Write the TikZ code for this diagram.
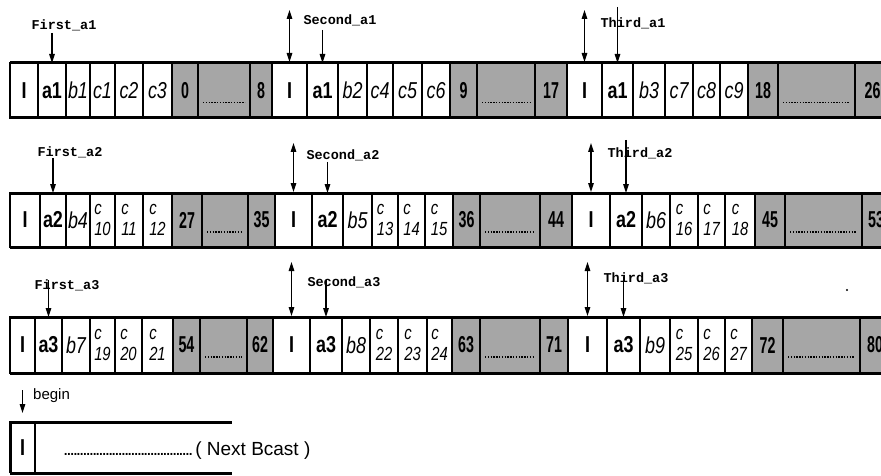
\documentclass[tikz,border=0pt]{standalone}
\usepackage{fontspec}
\setmainfont{Liberation Sans}
\newfontfamily\cellfont[FakeStretch=0.78]{Liberation Sans}
\newfontfamily\numfont[FakeStretch=0.62]{Liberation Sans}
\newfontfamily\lblfont{Liberation Mono}
\usetikzlibrary{arrows.meta}
\tikzset{
 cellbox/.style={draw, line width=1.2pt, inner sep=0pt, outer sep=0pt},
 ic/.style={font=\cellfont\bfseries\fontsize{23}{23}\selectfont},
 ab/.style={font=\cellfont\bfseries\fontsize{23}{23}\selectfont},
 itc/.style={font=\cellfont\itshape\fontsize{23}{23}\selectfont},
 stk/.style={font=\cellfont\itshape\fontsize{19}{21}\selectfont, align=left},
 gn/.style={fill=black!35, font=\numfont\bfseries\fontsize{23}{23}\selectfont},
 gm/.style={fill=black!35},
 rowline/.style={line width=3pt},
 secline/.style={line width=2.8pt},
 blockline/.style={line width=2.6pt},
 dotl/.style={line width=1.6pt, dash pattern=on 1.4pt off 1.4pt},
 lbl/.style={font=\lblfont\bfseries\fontsize{13.5}{14}\selectfont, inner sep=0pt},
 arr/.style={line width=1.4pt, -{Triangle[length=9pt,width=5.5pt]}},
 darr/.style={line width=1.4pt, {Triangle[length=9pt,width=5.5pt]}-{Triangle[length=9pt,width=5.5pt]}},
}
\newcommand\mkrow[4]{\foreach \xa/\xb/\cst/\ctx [count=\k] in {#4}{%
  \node[cellbox,\cst,minimum width={(\xb-\xa)*1pt},minimum height={(#3-#2)*1pt}] (#1c\k) at ({(\xa+\xb)/2},{(#2+#3)/2}) {\ctx};}}
\begin{document}
\begin{tikzpicture}[x=1pt,y=-1pt]
\useasboundingbox[fill=white] (0,0) rectangle (881,476);
% ---------- rows ----------
\mkrow{r1}{63}{118}{10/38/ic/I, 38/66/ab/a1, 66/90/itc/b1, 90/115/itc/c1, 115/143/itc/c2, 143/172/itc/c3, 172/198/gn/0, 198/250/gm/{}, 250/272/gn/8,
 272/307/ic/I, 307/338/ab/a1, 338/367/itc/b2, 367/393/itc/c4, 393/422/itc/c5, 422/450/itc/c6, 450/477/gn/9, 477/535/gm/{}, 535/567/gn/17,
 567/602/ic/I, 602/633/ab/a1, 633/665/itc/b3, 665/693/itc/c7, 693/720/itc/c8, 720/748/itc/c9, 748/778/gn/18, 778/855/gm/{}, 855/890/gn/26}
\mkrow{r2}{193}{247}{10/40/ic/I, 40/66/ab/a2, 66/90/itc/b4, 90/115/stk/{c\\10}, 115/143/stk/{c\\11}, 143/172/stk/{c\\12}, 172/202/gn/27, 202/248/gm/{}, 248/275/gn/35,
 275/312/ic/I, 312/343/ab/a2, 343/372/itc/b5, 372/398/stk/{c\\13}, 398/425/stk/{c\\14}, 425/453/stk/{c\\15}, 453/480/gn/36, 480/540/gm/{}, 540/572/gn/44,
 572/610/ic/I, 610/642/ab/a2, 642/670/itc/b6, 670/698/stk/{c\\16}, 698/725/stk/{c\\17}, 725/755/stk/{c\\18}, 755/785/gn/45, 785/862/gm/{}, 862/890/gn/53}
\mkrow{r3}{317}{373}{10/35/ic/I, 35/62/ab/a3, 62/90/itc/b7, 90/115/stk/{c\\19}, 115/142/stk/{c\\20}, 142/173/stk/{c\\21}, 173/200/gn/54, 200/247/gm/{}, 247/273/gn/62,
 273/310/ic/I, 310/342/ab/a3, 342/370/itc/b8, 370/398/stk/{c\\22}, 398/427/stk/{c\\23}, 427/452/stk/{c\\24}, 452/480/gn/63, 480/540/gm/{}, 540/568/gn/71,
 568/607/ic/I, 607/640/ab/a3, 640/670/itc/b9, 670/698/stk/{c\\25}, 698/725/stk/{c\\26}, 725/752/stk/{c\\27}, 752/783/gn/72, 783/860/gm/{}, 860/890/gn/80}
\foreach \r in {r1,r2,r3}{
  \foreach \k in {1,10,19} \draw[secline] (\r c\k.north west) -- (\r c\k.south west);
  \foreach \a/\b in {7/9,16/18,25/27} \draw[blockline] (\r c\a.north west) rectangle (\r c\b.south east);
  \foreach \m in {8,17,26} \draw[dotl] ([xshift=5pt,yshift=-12pt]\r c\m.west) -- ([xshift=-5pt,yshift=-12pt]\r c\m.east);
  \draw[rowline] (\r c1.north west) -- (\r c27.north east);
  \draw[rowline] (\r c1.south west) -- (\r c27.south east);
}
% ---------- labels and arrows ----------
\node[lbl] (l11) at (64,25) {First\_a1};
\node[lbl] (l12) at (340,20) {Second\_a1};
\node[lbl] (l13) at (633,23) {Third\_a1};
\node[lbl] (l21) at (70,152) {First\_a2};
\node[lbl] (l22) at (343,155) {Second\_a2};
\node[lbl] (l23) at (640,153) {Third\_a2};
\node[lbl] (l31) at (67,285) {First\_a3};
\node[lbl] (l32) at (344,282) {Second\_a3};
\node[lbl] (l33) at (636,278) {Third\_a3};
% pointer arrows to a-cells
\coordinate (p11) at ([yshift=30pt]r1c2.north);
\coordinate (p12) at ([yshift=33pt]r1c11.north);
\coordinate (p13) at ([yshift=56pt]r1c20.north);
\coordinate (p21) at ([yshift=35pt]r2c2.north);
\coordinate (p22) at ([yshift=31pt]r2c11.north);
\coordinate (p23) at ([yshift=53pt]r2c20.north);
\coordinate (p31) at ([yshift=37pt]r3c2.north);
\coordinate (p32) at ([yshift=37pt]r3c11.north);
\coordinate (p33) at ([yshift=40pt]r3c20.north);
\foreach \r in {1,2,3}{
  \draw[arr] (p\r1) -- (r\r c2.north);
  \draw[arr] (p\r2) -- (r\r c11.north);
  \draw[arr] (p\r3) -- (r\r c20.north);
}
% double arrows to I-cells
\coordinate (d12) at ([yshift=53pt]r1c10.north);
\coordinate (d13) at ([yshift=53pt]r1c19.north);
\coordinate (d22) at ([yshift=50pt]r2c10.north);
\coordinate (d23) at ([yshift=50pt]r2c19.north);
\coordinate (d32) at ([yshift=55pt]r3c10.north);
\coordinate (d33) at ([yshift=55pt]r3c19.north);
\foreach \r in {1,2,3}{
  \draw[darr] (d\r2) -- ([yshift=1pt]r\r c10.north);
  \draw[darr] (d\r3) -- ([yshift=1pt]r\r c19.north);
}
\fill (847,290) circle (1.2);
% ---------- next broadcast ----------
\node[cellbox, ic, draw=none, minimum width=25pt, minimum height=51pt] (bI) at (22.5,447.5) {I};
\coordinate (bend) at (232,422);
\draw[rowline] (bI.south west) -- (bI.north west) -- (bI.north west -| bend);
\draw[rowline] (bI.south west) -- (bI.south west -| bend);
\draw[line width=2pt] (bI.north east) -- (bI.south east);
\node[font=\fontsize{15}{15}\selectfont, anchor=base west, inner sep=0pt] (beg) at (33,399) {begin};
\coordinate (bstart) at ([yshift=32pt]bI.north);
\draw[arr] (bstart) -- ([yshift=9pt]bI.north);
\node[font=\fontsize{19}{19}\selectfont, anchor=base west, inner sep=0pt] (nb) at (64,455) {\hbox to 131pt{\leaders\hbox to 3.2pt{\hss.\hss}\hfill}( Next Bcast )};
\end{tikzpicture}
\end{document}
